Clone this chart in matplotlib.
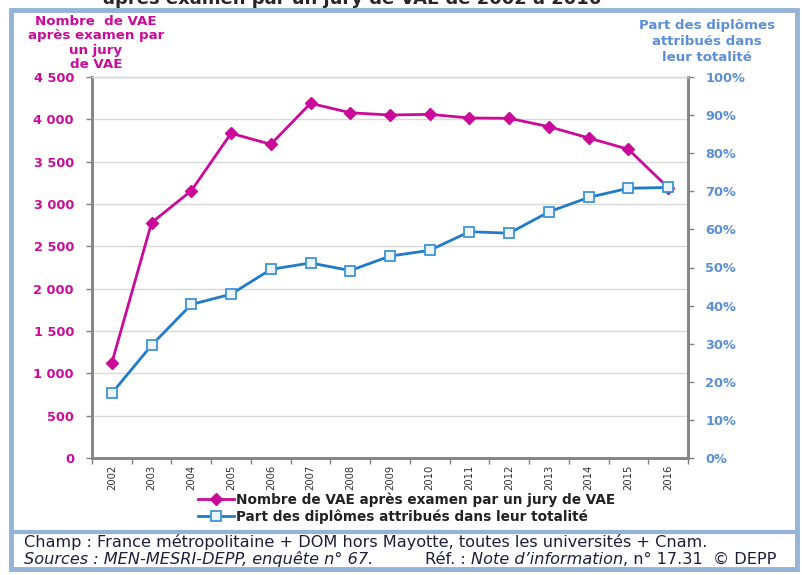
import matplotlib
matplotlib.use("Agg")
import matplotlib.pyplot as plt
from matplotlib.patches import Rectangle
from matplotlib.lines import Line2D
from matplotlib.transforms import IdentityTransform

# data
years = ["2002", "2003", "2004", "2005", "2006", "2007", "2008", "2009",
         "2010", "2011", "2012", "2013", "2014", "2015", "2016"]
nb_vae = [1125, 2780, 3157, 3835, 3705, 4189, 4078, 4051,
          4059, 4016, 4012, 3913, 3780, 3646, 3193]
part_diplomes = [17.0, 29.6, 40.3, 43.0, 49.5, 51.2, 49.2, 53.0,
                 54.5, 59.4, 59.0, 64.6, 68.4, 70.8, 71.0]
left_ticks = [0, 500, 1000, 1500, 2000, 2500, 3000, 3500, 4000, 4500]
right_ticks = [0, 10, 20, 30, 40, 50, 60, 70, 80, 90, 100]

pink = "#CC0A99"
blue = "#1F7BC8"
blue_lbl = "#5B8FD6"
frame_col = "#95B3D7"
foot = "#1F1F3A"

W, H = 803, 575
fig = plt.figure(figsize=(W / 100, H / 100), dpi=100)

def fx(px):
    return px / W

def fy(py):
    return 1 - py / H

# outer frames
fig.patches.append(Rectangle((fx(11), fy(569)), fx(797) - fx(11), fy(10) - fy(569),
                             transform=fig.transFigure, fill=False,
                             edgecolor=frame_col, linewidth=3.5, zorder=0))
fig.lines.append(Line2D([fx(11), fx(797)], [fy(532), fy(532)], transform=fig.transFigure,
                        color=frame_col, linewidth=3))

ax = fig.add_axes([fx(92), fy(458), fx(688) - fx(92), fy(77) - fy(458)])
ax2 = ax.twinx()

x = list(range(len(years)))
l1, = ax.plot(x, nb_vae, color=pink, linewidth=2, marker="D", markersize=6,
              markerfacecolor=pink, markeredgecolor=pink, zorder=3)
l2, = ax2.plot(x, part_diplomes, color=blue, linewidth=2, marker="s", markersize=7.5,
               markerfacecolor="#EEF4FB", markeredgecolor="#3E95D8", markeredgewidth=1.3)

ax.set_xlim(-0.5, len(years) - 0.5)
ax.set_ylim(0, 4500)
ax2.set_ylim(0, 100)

ax.set_yticks(left_ticks)
ax.set_yticklabels([f"{v:,}".replace(",", " ") for v in left_ticks])
ax2.set_yticks(right_ticks)
ax2.set_yticklabels([f"{v}%" for v in right_ticks])

ax.set_xticks(x)
ax.set_xticklabels(years, rotation=90, fontsize=7.2, family="Liberation Sans Narrow", color="#333333")
ax.set_xticks([i - 0.5 for i in range(len(years) + 1)], minor=True)
ax.tick_params(axis="x", which="major", length=0, pad=5)
ax.tick_params(axis="x", which="minor", length=4.5, color="#808080", width=1)

ax.tick_params(axis="y", length=4.5, color="#808080", width=1, pad=8.5)
for t in ax.get_yticklabels():
    t.set_color(pink)
    t.set_fontweight("bold")
    t.set_fontsize(9.3)
ax2.tick_params(axis="y", length=4.5, color="#808080", width=1, pad=8)
for t in ax2.get_yticklabels():
    t.set_color(blue_lbl)
    t.set_fontweight("bold")
    t.set_fontsize(9.3)

ax.grid(axis="y", color="#D9D9D9", linewidth=1)
ax.set_axisbelow(True)
for a in (ax, ax2):
    for s in ("left", "right", "bottom"):
        a.spines[s].set_color("#868686")
        a.spines[s].set_linewidth(2)
    a.spines["top"].set_color("#D9D9D9")
    a.spines["top"].set_linewidth(1)

# axis titles
fig.text(fx(96), fy(15), "Nombre  de VAE\naprès examen par\nun jury\nde VAE", ha="center", va="top",
         color=pink, fontweight="bold", fontsize=9.6, linespacing=1.15)
fig.text(fx(707), fy(19), "Part des diplômes\nattribués dans\nleur totalité", ha="center", va="top",
         color=blue_lbl, fontweight="bold", fontsize=9.6, linespacing=1.3)

# title cut at the top
fig.text(fx(352), fy(4), "après examen par un jury de VAE de 2002 à 2016", ha="center",
         va="baseline", fontsize=13, fontweight="bold", color="#262626")

ax.legend([l1, l2], ["Nombre de VAE après examen par un jury de VAE",
                     "Part des diplômes attribués dans leur totalité"],
          loc="upper left", bbox_to_anchor=(fx(188), fy(483)), bbox_transform=fig.transFigure,
          frameon=False, handlelength=2.7, handletextpad=0.1, labelspacing=0.15,
          borderpad=0.2, prop={"weight": "bold", "size": 9.8}, labelcolor="#222222")

# footer
fs = 11.6
fig.text(fx(24), fy(542), "Champ : France métropolitaine + DOM hors Mayotte, toutes les universités + Cnam.",
         fontsize=fs, color=foot, va="center")
fig.text(fx(24), fy(559), "Sources : MEN-MESRI-DEPP, enquête n° 67.", fontsize=fs, color=foot,
         va="center", style="italic")
t2 = fig.text(fx(425), fy(559), "Réf. : ", fontsize=fs, color=foot, va="center")
fig.canvas.draw()
bb = t2.get_window_extent()
t3 = fig.text(bb.x1, bb.y0, "Note d’information", fontsize=fs, color=foot, style="italic",
              va="bottom", transform=IdentityTransform())
fig.canvas.draw()
bb3 = t3.get_window_extent()
fig.text(bb3.x1, bb3.y0, ", n° 17.31  © DEPP", fontsize=fs, color=foot, va="bottom",
         transform=IdentityTransform())

fig.savefig("out.png", dpi=100)
